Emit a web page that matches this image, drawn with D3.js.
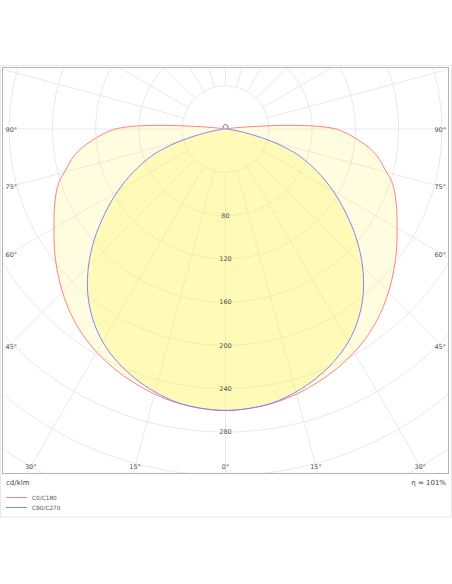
<!DOCTYPE html>
<html>
<head>
<meta charset="utf-8">
<script src="https://cdn.jsdelivr.net/npm/d3@7"></script>
<style>
    html, body { margin: 0; padding: 0; background: #fff; }
    svg { display: block; font-family: "DejaVu Sans", Verdana, sans-serif; }
</style>
</head>
<body>
<svg id="chart" width="452" height="584"></svg>
<script>
// gamma angles (deg from nadir) and intensities in cd/klm
const gammaAngles = [0, 5, 10, 15, 20, 25, 30, 35, 40, 45, 50, 55, 60, 65, 70,
    72.5, 75, 77.5, 80, 82.5, 85, 87.5, 90,
    91, 92, 93, 94, 95, 96, 98, 100,
    110, 120, 135, 150, 165, 180];
const c0c180 = [260, 259, 257, 253.5, 249, 244, 238, 231, 222.5, 213, 203, 193, 183, 174.5, 166,
    161, 154, 148, 142, 134, 124, 114, 102,
    93, 81, 65, 45, 27, 14, 5, 2.5,
    2.2, 2.6, 3.1, 3.7, 4.1, 4.2];
const c90c270 = [260, 259, 256.5, 251.5, 245, 237, 227, 214, 198, 179, 158, 136, 115, 94, 72.5,
    59, 44, 28, 15, 7, 3, 1, 0.3,
    0.3, 0.4, 0.5, 0.6, 0.7, 0.8, 1, 1.3,
    2, 2.6, 3.1, 3.7, 4.1, 4.2];

const ringValues = [40, 80, 120, 160, 200, 240, 280, 320, 360];
const ringLabels = [80, 120, 160, 200, 240, 280];
const spokeAngles = d3.range(0, 360, 15);
const sideLabels = [90, 75, 60, 45];
const bottomLabels = [30, 15, 0];

const series = [
    { name: "C0/C180", values: c0c180, stroke: "#ff8282", fill: "rgba(255,240,100,0.2)" },
    { name: "C90/C270", values: c90c270, stroke: "#8484ff", fill: "rgba(255,245,60,0.25)" }
];

const svg = d3.select("#chart");
const box = { left: 2.5, top: 67.5, right: 448.5, bottom: 473.5 };
const cx = 225.5, cy = 129;
const rScale = d3.scaleLinear().domain([0, 40]).range([0, 43.3]);
const rad = d => d * Math.PI / 180;

// card + plot frame
svg.append("rect")
    .attr("x", 0.5).attr("y", 65.5).attr("width", 451).attr("height", 451.5)
    .attr("fill", "#fff").attr("stroke", "#e8e8e8");

svg.append("clipPath").attr("id", "plotclip")
    .append("rect")
    .attr("x", box.left).attr("y", box.top)
    .attr("width", box.right - box.left).attr("height", box.bottom - box.top);

const plot = svg.append("g").attr("clip-path", "url(#plotclip)");
const grid = plot.append("g").attr("transform", `translate(${cx},${cy})`);

grid.selectAll("circle.ring")
    .data(ringValues)
    .enter()
    .append("circle")
    .attr("class", "ring")
    .attr("r", d => rScale(d))
    .attr("fill", "none")
    .attr("stroke", "#e9e9e9")
    .attr("stroke-width", 1);

grid.selectAll("line.spoke")
    .data(spokeAngles)
    .enter()
    .append("line")
    .attr("class", "spoke")
    .attr("x1", d => rScale(40) * Math.sin(rad(d)))
    .attr("y1", d => rScale(40) * Math.cos(rad(d)))
    .attr("x2", d => 700 * Math.sin(rad(d)))
    .attr("y2", d => 700 * Math.cos(rad(d)))
    .attr("stroke", "#e9e9e9")
    .attr("stroke-width", 1);

// closed polar curve: C0 to the right, C180 mirrored to the left
const curvePoints = vals => {
    const right = gammaAngles.map((g, i) => [Math.PI - rad(g), rScale(vals[i])]);
    const left = gammaAngles.map((g, i) => [Math.PI + rad(g), rScale(vals[i])])
        .slice(1, -1)
        .reverse();
    return right.concat(left);
};

const radial = d3.lineRadial()
    .angle(d => d[0])
    .radius(d => d[1])
    .curve(d3.curveCatmullRomClosed.alpha(0.5));

const curves = plot.append("g").attr("transform", `translate(${cx},${cy})`);

series.forEach(s => {
    curves.append("path")
        .datum(curvePoints(s.values))
        .attr("d", radial)
        .attr("fill", s.fill)
        .attr("stroke", "none");
});
series.forEach(s => {
    curves.append("path")
        .datum(curvePoints(s.values))
        .attr("d", radial)
        .attr("fill", "none")
        .attr("stroke", s.stroke)
        .attr("stroke-width", 1);
});

// ring value labels down the 0° axis
svg.selectAll("text.ringlabel")
    .data(ringLabels)
    .enter()
    .append("text")
    .attr("class", "ringlabel")
    .attr("x", cx)
    .attr("y", d => cy + rScale(d))
    .attr("text-anchor", "middle")
    .attr("dominant-baseline", "central")
    .attr("font-size", 6.5)
    .attr("fill", "#555")
    .text(d => d);

// angle labels on the frame
const sideY = (g, xEdge) => cy + Math.abs(xEdge - cx) / Math.tan(rad(g));
sideLabels.forEach(g => {
    const yl = g === 90 ? cy + 1 : sideY(g, box.left + 5);
    svg.append("text")
        .attr("x", box.left + 3).attr("y", yl)
        .attr("dominant-baseline", "central")
        .attr("font-size", 6.5).attr("fill", "#555")
        .text(g + "°");
    const yr = g === 90 ? cy + 1 : sideY(g, box.right - 5);
    svg.append("text")
        .attr("x", box.right - 2.5).attr("y", yr)
        .attr("text-anchor", "end")
        .attr("dominant-baseline", "central")
        .attr("font-size", 6.5).attr("fill", "#555")
        .text(g + "°");
});

const yBottom = box.bottom - 7;
bottomLabels.forEach(g => {
    const dx = (yBottom - cy) * Math.tan(rad(g));
    const xs = g === 0 ? [cx] : [cx - dx, cx + dx];
    xs.forEach(x => {
        svg.append("text")
            .attr("x", x).attr("y", yBottom)
            .attr("text-anchor", "middle")
            .attr("dominant-baseline", "central")
            .attr("font-size", 6.5).attr("fill", "#555")
            .text(g + "°");
    });
});

svg.append("rect")
    .attr("x", box.left).attr("y", box.top)
    .attr("width", box.right - box.left).attr("height", box.bottom - box.top)
    .attr("fill", "none").attr("stroke", "#b4b4b4").attr("stroke-width", 1);

// footer: unit, efficiency, legend
svg.append("text")
    .attr("x", 6).attr("y", 482.5)
    .attr("dominant-baseline", "central")
    .attr("font-size", 7).attr("fill", "#444")
    .text("cd/klm");

svg.append("text")
    .attr("x", 446).attr("y", 482.5)
    .attr("text-anchor", "end")
    .attr("dominant-baseline", "central")
    .attr("font-size", 7).attr("fill", "#444")
    .text("η = 101%");

const legend = svg.selectAll("g.legend")
    .data(series)
    .enter()
    .append("g")
    .attr("class", "legend")
    .attr("transform", (d, i) => `translate(6,${497.5 + i * 10})`);

legend.append("line")
    .attr("x1", 0).attr("x2", 21)
    .attr("stroke", d => d.stroke)
    .attr("stroke-width", 1);

legend.append("text")
    .attr("x", 26)
    .attr("dominant-baseline", "central")
    .attr("font-size", 5.8)
    .attr("fill", "#555")
    .text(d => d.name);
</script>
</body>
</html>
